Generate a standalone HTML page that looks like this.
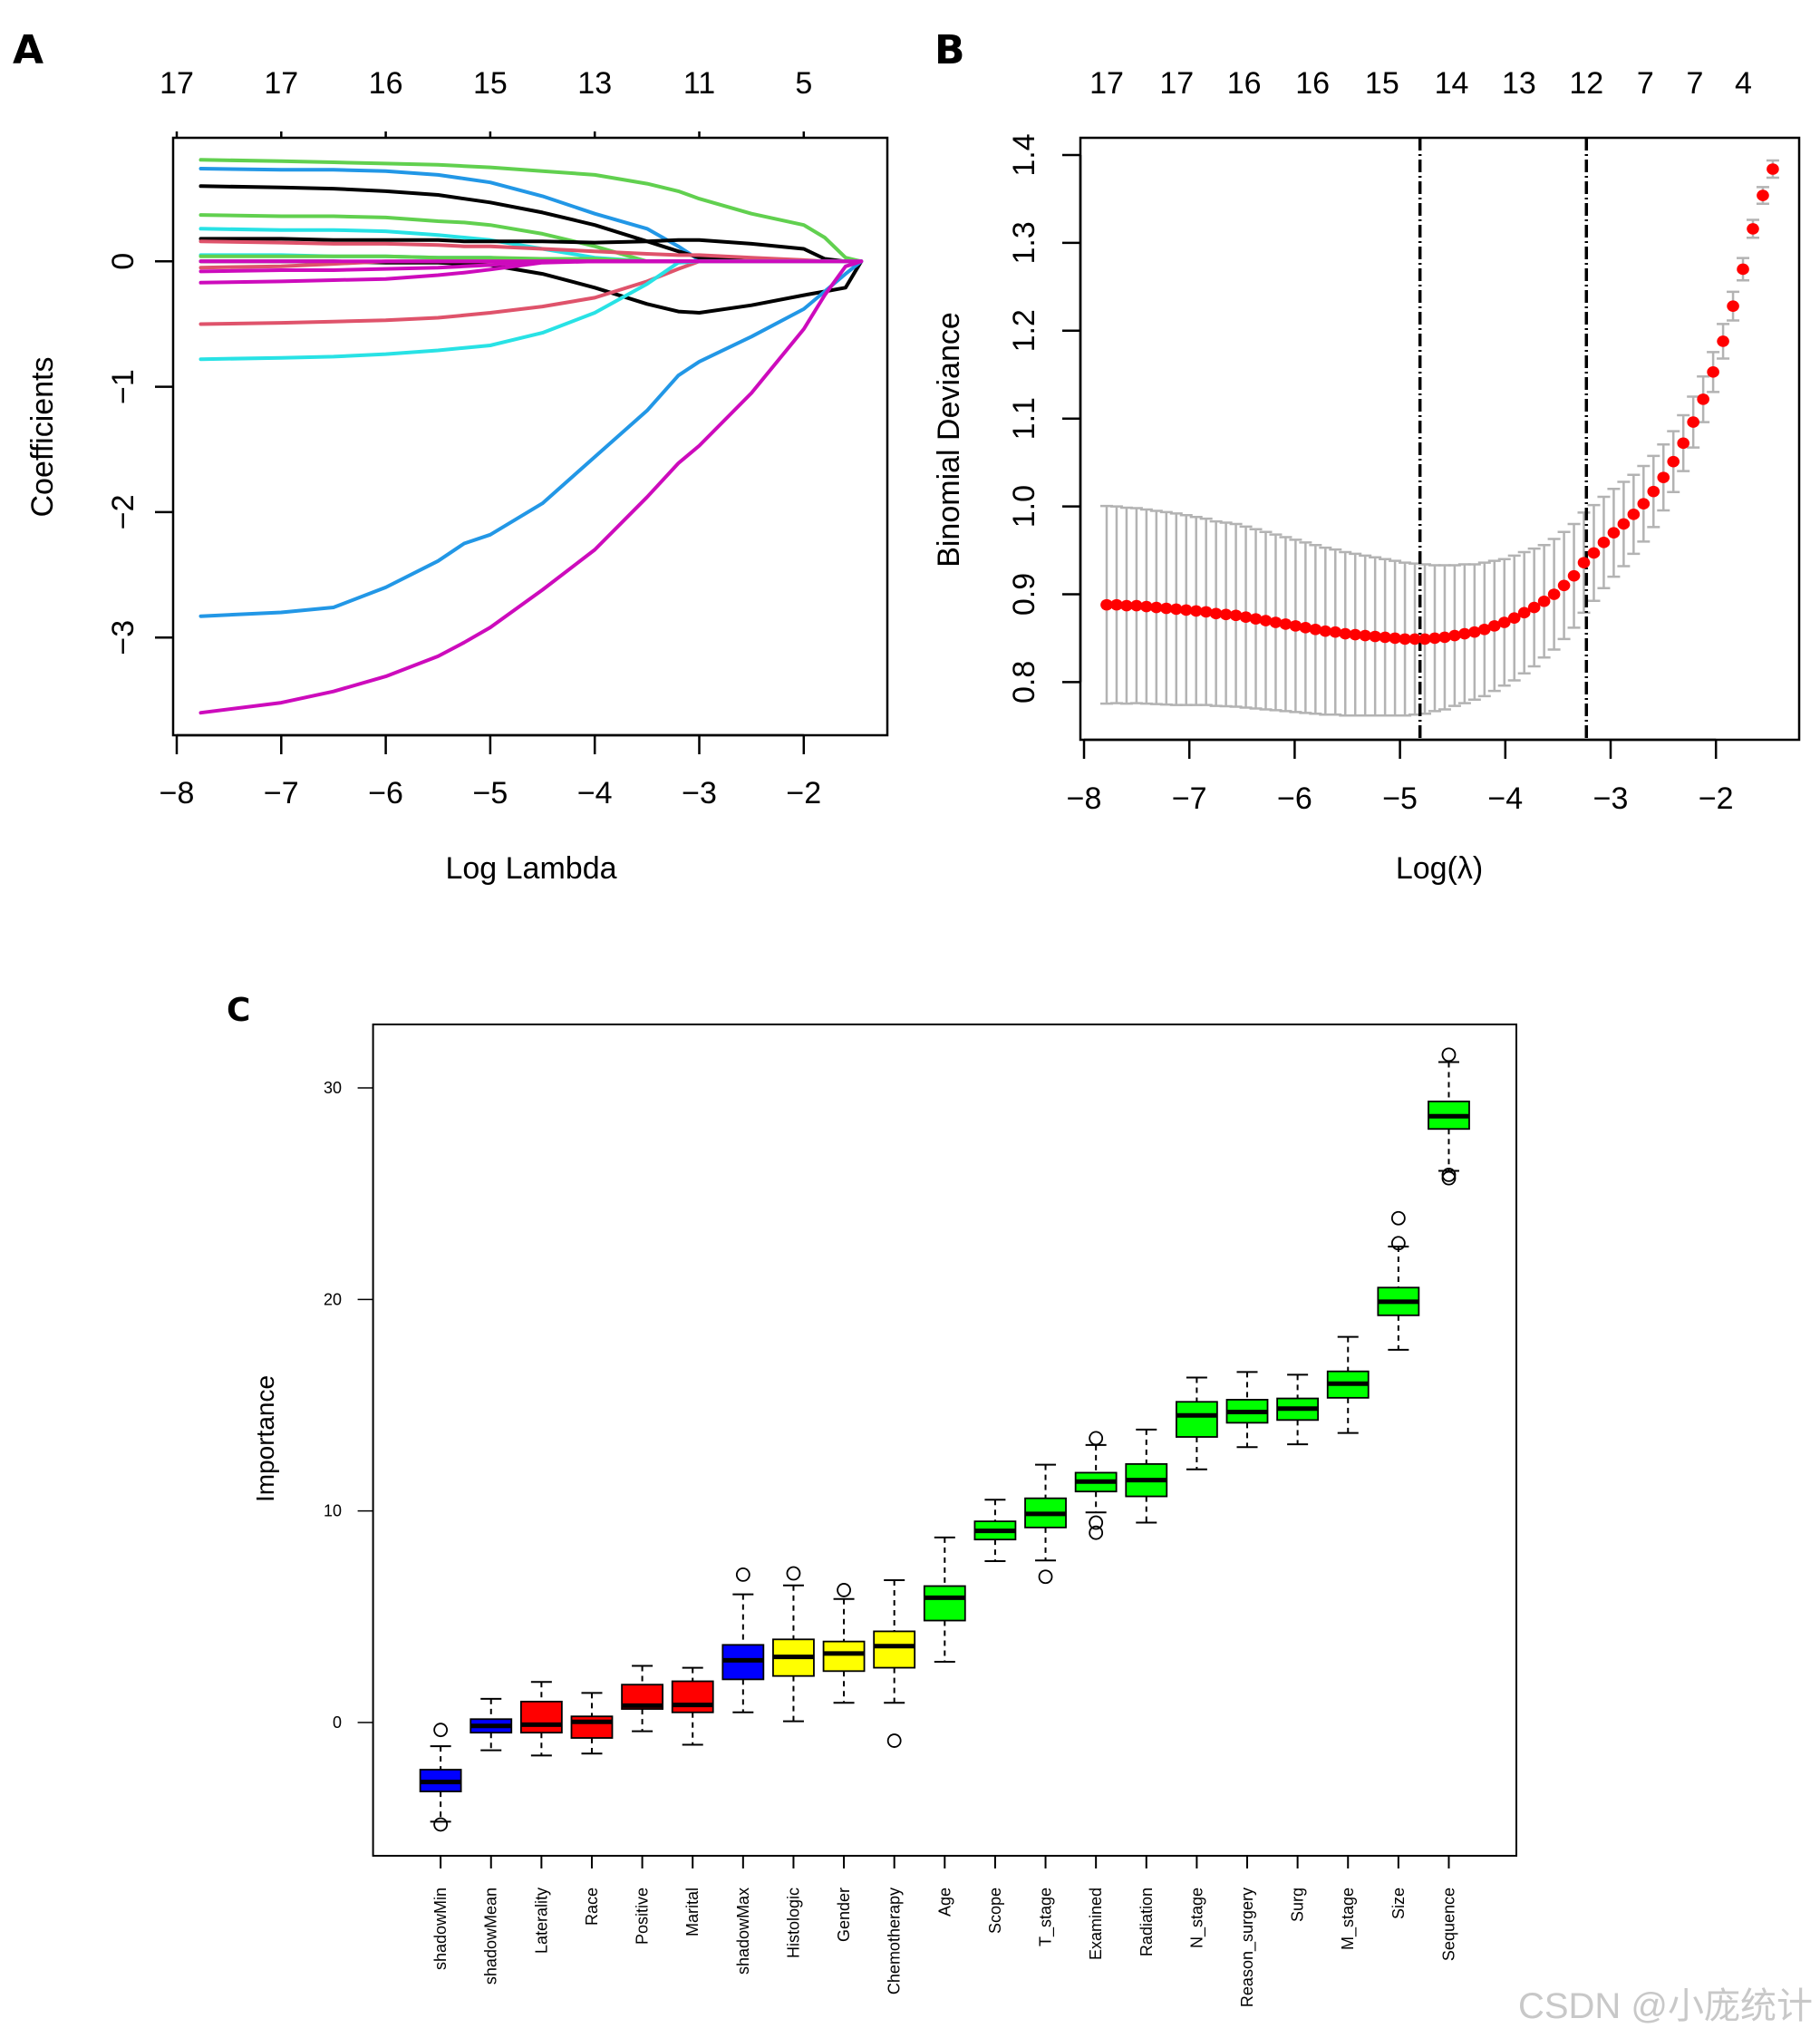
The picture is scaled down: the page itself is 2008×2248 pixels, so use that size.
<!DOCTYPE html>
<html><head><meta charset="utf-8"><style>
html,body{margin:0;padding:0;background:#fff}
svg{display:block}
text{font-family:"Liberation Sans",Arial,sans-serif;fill:#000}
</style></head><body>
<svg id="root" width="2008" height="2248" viewBox="0 0 2008 2248" xmlns="http://www.w3.org/2000/svg">
<rect width="2008" height="2248" fill="#fff"/>
<g id="pa"></g>
<g id="pb"></g>
<g id="pc"></g>
<text x="2000" y="2226" text-anchor="end" font-size="40" style="fill:#c8c8c8;font-family:'Liberation Sans','Noto Sans CJK SC',sans-serif">CSDN @小庞统计</text>
</svg>
<script>
// ---------- Panel A data ----------
const aLambda = [-7.77,-7,-6.5,-6,-5.5,-5.25,-5,-4.5,-4,-3.5,-3.2,-3,-2.5,-2,-1.8,-1.6,-1.45];
const aTopLabels = ["17","17","16","15","13","11","5"];
const aXTicks = [-8,-7,-6,-5,-4,-3,-2];
const aYTicks = [0,-1,-2,-3];
const aColors = ["#61D04F","#2297E6","#000000","#61D04F","#28E2E5","#000000","#DF536B","#28E2E5","#61D04F","#000000","#DF536B","#CD0BBC","#CD0BBC","#DF536B","#28E2E5","#2297E6","#CD0BBC","#CD0BBC"];
const aPath1 = [0.81,0.80,0.79,0.78,0.77,0.76,0.75,0.72,0.69,0.62,0.56,0.50,0.38,0.29,0.19,0.03,0];
const aPath2 = [0.74,0.73,0.73,0.72,0.69,0.66,0.63,0.52,0.38,0.26,0.12,0.01,0,0,0,0,0];
const aPath3 = [0.60,0.59,0.58,0.56,0.53,0.50,0.47,0.39,0.29,0.16,0.08,0.03,0,0,0,0,0];
const aPath4 = [0.37,0.36,0.36,0.35,0.32,0.31,0.29,0.22,0.12,0,0,0,0,0,0,0,0];
const aPath5 = [0.26,0.25,0.25,0.24,0.21,0.19,0.17,0.10,0.03,0,0,0,0,0,0,0,0];
const aPath6 = [0.18,0.18,0.17,0.17,0.17,0.16,0.16,0.16,0.15,0.16,0.17,0.17,0.14,0.10,0.02,0,0];
const aPath7 = [0.16,0.15,0.14,0.14,0.13,0.12,0.12,0.10,0.08,0.06,0.05,0.05,0.03,0.01,0,0,0];
const aPath8 = [0.05,0.05,0.04,0.04,0.03,0.03,0.03,0,0,0,0,0,0,0,0,0,0];
const aPath9 = [0.04,0.04,0.04,0.04,0.03,0.03,0.03,0.02,0.02,0,0,0,0,0,0,0,0];
const aPath10 = [0,0,0,-0.01,-0.01,-0.02,-0.03,-0.10,-0.21,-0.34,-0.40,-0.41,-0.35,-0.27,-0.24,-0.21,0];
const aPath11 = [-0.05,-0.04,-0.02,0,0,0,0,0,0,0,0,0,0,0,0,0,0];
const aPath12 = [-0.08,-0.07,-0.07,-0.06,-0.05,-0.04,-0.03,0,0,0,0,0,0,0,0,0,0];
const aPath13 = [-0.17,-0.16,-0.15,-0.14,-0.11,-0.09,-0.065,-0.01,0,0,0,0,0,0,0,0,0];
const aPath14 = [-0.50,-0.49,-0.48,-0.47,-0.45,-0.43,-0.41,-0.36,-0.29,-0.16,-0.06,0,0,0,0,0,0];
const aPath15 = [-0.78,-0.77,-0.76,-0.74,-0.71,-0.69,-0.67,-0.57,-0.41,-0.18,-0.01,0,0,0,0,0,0];
const aPath16 = [-2.83,-2.80,-2.76,-2.60,-2.39,-2.25,-2.18,-1.93,-1.56,-1.19,-0.91,-0.80,-0.60,-0.38,-0.24,-0.10,0];
const aPath17 = [-3.60,-3.52,-3.43,-3.31,-3.15,-3.04,-2.92,-2.62,-2.30,-1.88,-1.61,-1.47,-1.05,-0.54,-0.27,-0.04,0];
const aPath18 = [0,0,0,0,0,0,0,0,0,0,0,0,0,0,0,0,0];

// ---------- Panel B data ----------
const bLambdaStart = -7.785;
const bLambdaStep = 0.0944;
const bCvm = [0.888,0.888,0.887,0.887,0.886,0.885,0.884,0.883,0.882,0.881,0.880,0.878,0.877,0.876,0.874,0.872,0.870,0.868,0.866,0.864,0.862,0.860,0.858,0.857,0.855,0.854,0.853,0.852,0.851,0.850,0.849,0.849,0.849,0.850,0.851,0.853,0.855,0.857,0.860,0.864,0.868,0.873,0.879,0.885,0.892,0.900,0.910,0.921,0.936,0.947,0.959,0.970,0.980,0.991,1.003,1.017,1.033,1.051,1.072,1.096,1.122,1.153,1.188,1.228,1.270,1.316,1.354,1.384];
const bSe = [0.1125,0.112,0.1115,0.111,0.1105,0.110,0.1095,0.109,0.108,0.107,0.106,0.105,0.1045,0.104,0.103,0.102,0.101,0.100,0.099,0.098,0.097,0.096,0.095,0.094,0.093,0.092,0.091,0.090,0.089,0.088,0.087,0.086,0.085,0.083,0.082,0.080,0.079,0.077,0.076,0.074,0.072,0.071,0.069,0.067,0.064,0.063,0.061,0.059,0.057,0.0545,0.052,0.050,0.048,0.045,0.043,0.0405,0.0376,0.0346,0.0318,0.029,0.026,0.0227,0.0197,0.0163,0.0127,0.0102,0.0095,0.0098];
const bVLines = [-4.81,-3.23];
const bTopPos = [-7.785,-7.12,-6.48,-5.83,-5.17,-4.51,-3.87,-3.23,-2.67,-2.20,-1.74];
const bTopLabels = ["17","17","16","16","15","14","13","12","7","7","4"];
const bXTicks = [-8,-7,-6,-5,-4,-3,-2];
const bYTicks = [0.8,0.9,1.0,1.1,1.2,1.3,1.4];

// ---------- Panel C data ----------
const cCats = ["shadowMin","shadowMean","Laterality","Race","Positive","Marital","shadowMax","Histologic","Gender","Chemotherapy","Age","Scope","T_stage","Examined","Radiation","N_stage","Reason_surgery","Surg","M_stage","Size","Sequence"];
const cFill = ["#0000FF","#0000FF","#FF0000","#FF0000","#FF0000","#FF0000","#0000FF","#FFFF00","#FFFF00","#FFFF00","#00FF00","#00FF00","#00FF00","#00FF00","#00FF00","#00FF00","#00FF00","#00FF00","#00FF00","#00FF00","#00FF00"];
const cWhiskLo = [-4.69,-1.31,-1.56,-1.47,-0.41,-1.05,0.48,0.06,0.93,0.93,2.87,7.63,7.66,9.93,9.45,11.97,13.02,13.15,13.69,17.62,26.08];
const cQ1 = [-3.26,-0.48,-0.48,-0.73,0.64,0.48,2.04,2.20,2.43,2.59,4.82,8.65,9.22,10.92,10.69,13.50,14.17,14.30,15.35,19.25,28.06];
const cMed = [-2.81,-0.16,-0.10,0.03,0.80,0.83,2.94,3.10,3.26,3.61,5.90,9.06,9.86,11.39,11.46,14.52,14.68,14.84,16.02,19.89,28.66];
const cQ3 = [-2.23,0.16,0.99,0.29,1.79,1.95,3.67,3.93,3.83,4.31,6.45,9.51,10.60,11.81,12.22,15.16,15.26,15.32,16.60,20.56,29.36];
const cWhiskHi = [-1.12,1.12,1.92,1.40,2.68,2.59,6.06,6.48,5.84,6.73,8.75,10.53,12.19,13.12,13.85,16.31,16.57,16.44,18.23,22.50,31.22];
const cOutliers = [[-0.35,-4.82],[],[],[],[],[],[6.99],[7.05],[6.26],[-0.86],[],[],[6.89],[13.44,9.45,8.97],[],[],[],[],[],[23.84,22.66],[31.57,25.89,25.73]];
const cYTicks = [0,10,20,30];

const NS = "http://www.w3.org/2000/svg";
function mk(parent, tag, attrs, txt){
  const e = document.createElementNS(NS, tag);
  for (const k in attrs) e.setAttribute(k, attrs[k]);
  if (txt !== undefined) e.textContent = txt;
  parent.appendChild(e);
  return e;
}

// ===== Panel A =====
(function(){
  const g = document.getElementById('pa');
  const L=191, R=979, T=152, B=811;
  const x = v => 195 + (v + 8) * 115.3;
  const y = v => 288.3 - v * 138.3;
  const lab = mk(g,'text',{x:14,y:70,'font-size':44,'font-weight':'900',style:'font-family:"DejaVu Sans",sans-serif'},'A');
  
  
  const paths=[aPath1,aPath2,aPath3,aPath4,aPath5,aPath6,aPath7,aPath8,aPath9,aPath10,aPath11,aPath12,aPath13,aPath14,aPath15,aPath16,aPath17,aPath18];
  paths.forEach((p,i)=>{
    const pts = p.map((v,j)=>x(aLambda[j]).toFixed(1)+','+y(v).toFixed(1)).join(' ');
    const pl = mk(g,'polyline',{points:pts,fill:'none',stroke:aColors[i],'stroke-width':4,'stroke-linejoin':'round','stroke-linecap':'round'});
    
    
  });
  const box = mk(g,'rect',{x:L,y:T,width:R-L,height:B-T,fill:'none',stroke:'#000','stroke-width':2.5});
  
  
  aXTicks.forEach((v,i)=>{
    mk(g,'line',{x1:x(v),x2:x(v),y1:B,y2:B+21,stroke:'#000','stroke-width':2.5});
    const t = mk(g,'text',{x:x(v),y:886,'font-size':34,'text-anchor':'middle'},'\u2212'+Math.abs(v));
    
    
    mk(g,'line',{x1:x(v),x2:x(v),y1:T,y2:T-7,stroke:'#000','stroke-width':2.5});
    const tt = mk(g,'text',{x:x(v),y:103,'font-size':34,'text-anchor':'middle'},aTopLabels[i]);
    
    
  });
  mk(g,'line',{x1:x(-8),x2:x(-2),y1:B,y2:B,stroke:'#000','stroke-width':2.5});
  aYTicks.forEach(v=>{
    mk(g,'line',{x1:L,x2:L-20,y1:y(v),y2:y(v),stroke:'#000','stroke-width':2.5});
    const t = mk(g,'text',{x:0,y:0,'font-size':34,'text-anchor':'middle',transform:`translate(147,${y(v)}) rotate(-90)`},v===0?'0':'\u2212'+Math.abs(v));
    
    
  });
  const xt = mk(g,'text',{x:586,y:969,'font-size':34,'text-anchor':'middle'},'Log Lambda');
  
  
  const yt = mk(g,'text',{x:0,y:0,'font-size':34,'text-anchor':'middle',transform:'translate(58,482) rotate(-90)'},'Coefficients');
  
  
})();

// ===== Panel B =====
(function(){
  const g = document.getElementById('pb');
  const L=1192, R=1985, T=152, B=816;
  const x = v => 1196 + (v + 8) * 116.2;
  const y = v => 171 + (1.4 - v) * 969;
  const lab = mk(g,'text',{x:1031,y:70,'font-size':44,'font-weight':'900',style:'font-family:"DejaVu Sans",sans-serif'},'B');
  
  
  bCvm.forEach((v,i)=>{
    const lx = x(bLambdaStart + i*bLambdaStep);
    const up=y(v+bSe[i]), lo=y(v-bSe[i]);
    const eb = mk(g,'path',{d:`M${lx},${up}V${lo}M${lx-7},${up}H${lx+7}M${lx-7},${lo}H${lx+7}`,stroke:'#B3B3B3','stroke-width':2.5,fill:'none'});
    
    
  });
  bVLines.forEach(v=>{
    const vl = mk(g,'line',{x1:x(v),x2:x(v),y1:T,y2:B,stroke:'#000','stroke-width':3.5,'stroke-dasharray':'14,4,2,4'});
    
    
  });
  bCvm.forEach((v,i)=>{
    const c = mk(g,'ellipse',{cx:x(bLambdaStart + i*bLambdaStep),cy:y(v),rx:6.8,ry:6.3,fill:'#FF0000'});
    
    
  });
  const box = mk(g,'rect',{x:L,y:T,width:R-L,height:B-T,fill:'none',stroke:'#000','stroke-width':2.5});
  
  
  bXTicks.forEach(v=>{
    mk(g,'line',{x1:x(v),x2:x(v),y1:B,y2:B+21,stroke:'#000','stroke-width':2.5});
    const t = mk(g,'text',{x:x(v),y:892,'font-size':34,'text-anchor':'middle'},'\u2212'+Math.abs(v));
    
    
  });
  mk(g,'line',{x1:x(-8),x2:x(-2),y1:B,y2:B,stroke:'#000','stroke-width':2.5});
  bTopPos.forEach((v,i)=>{
    const t = mk(g,'text',{x:x(v),y:103,'font-size':34,'text-anchor':'middle'},bTopLabels[i]);
    
    
  });
  bYTicks.forEach(v=>{
    mk(g,'line',{x1:L,x2:L-20,y1:y(v),y2:y(v),stroke:'#000','stroke-width':2.5});
    const t = mk(g,'text',{x:0,y:0,'font-size':34,'text-anchor':'middle',transform:`translate(1141,${y(v)}) rotate(-90)`},v.toFixed(1));
    
    
  });
  mk(g,'line',{x1:L,x2:L,y1:y(0.8),y2:y(1.4),stroke:'#000','stroke-width':2.5});
  const xt = mk(g,'text',{x:1588,y:969,'font-size':34,'text-anchor':'middle'},'Log(\u03bb)');
  
  
  const yt = mk(g,'text',{x:0,y:0,'font-size':34,'text-anchor':'middle',transform:'translate(1058,485) rotate(-90)'},'Binomial Deviance');
  
  
})();

// ===== Panel C =====
(function(){
  const g = document.getElementById('pc');
  const L=411.6, R=1673, T=1130, B=2047;
  const unit = (R-L)/22.68;
  const x = i => L + (i + 1 - 0.5 + 0.84) * unit;
  const y = v => 1900 - v * 23.333;
  const lab = mk(g,'text',{x:250,y:1126,'font-size':36,'font-weight':'900',style:'font-family:"DejaVu Sans",sans-serif'},'C');
  
  
  const hw = 22.5, cw = 11.5;
  cCats.forEach((c,i)=>{
    const cx = x(i);
    const grp = mk(g,'g',{});
    
    
    mk(grp,'line',{x1:cx,x2:cx,y1:y(cWhiskHi[i]),y2:y(cQ3[i]),stroke:'#000','stroke-width':2,'stroke-dasharray':'6,5'});
    mk(grp,'line',{x1:cx,x2:cx,y1:y(cQ1[i]),y2:y(cWhiskLo[i]),stroke:'#000','stroke-width':2,'stroke-dasharray':'6,5'});
    mk(grp,'line',{x1:cx-cw,x2:cx+cw,y1:y(cWhiskHi[i]),y2:y(cWhiskHi[i]),stroke:'#000','stroke-width':2});
    mk(grp,'line',{x1:cx-cw,x2:cx+cw,y1:y(cWhiskLo[i]),y2:y(cWhiskLo[i]),stroke:'#000','stroke-width':2});
    mk(grp,'rect',{x:cx-hw,y:y(cQ3[i]),width:2*hw,height:y(cQ1[i])-y(cQ3[i]),fill:cFill[i],stroke:'#000','stroke-width':1.8});
    mk(grp,'line',{x1:cx-hw,x2:cx+hw,y1:y(cMed[i]),y2:y(cMed[i]),stroke:'#000','stroke-width':5});
    cOutliers[i].forEach(o=>{
      const oc = mk(grp,'circle',{cx:cx,cy:y(o),r:7,fill:'none',stroke:'#000','stroke-width':1.8});
      
      
    });
    mk(g,'line',{x1:cx,x2:cx,y1:B,y2:B+14,stroke:'#000','stroke-width':2});
    const t = mk(g,'text',{x:0,y:0,'font-size':18,'text-anchor':'end',transform:`translate(${cx+6},2082) rotate(-90)`},c);
    
    
  });
  mk(g,'line',{x1:x(0),x2:x(20),y1:B,y2:B,stroke:'#000','stroke-width':2});
  const box = mk(g,'rect',{x:L,y:T,width:R-L,height:B-T,fill:'none',stroke:'#000','stroke-width':2});
  
  
  cYTicks.forEach(v=>{
    mk(g,'line',{x1:L,x2:L-17,y1:y(v),y2:y(v),stroke:'#000','stroke-width':1.5});
    const t = mk(g,'text',{x:377,y:y(v)+6,'font-size':18,'text-anchor':'end'},String(v));
    
    
  });
  const yt = mk(g,'text',{x:0,y:0,'font-size':28,'text-anchor':'middle',transform:'translate(302,1587) rotate(-90)'},'Importance');
  
  
})();
</script>
</body></html>
